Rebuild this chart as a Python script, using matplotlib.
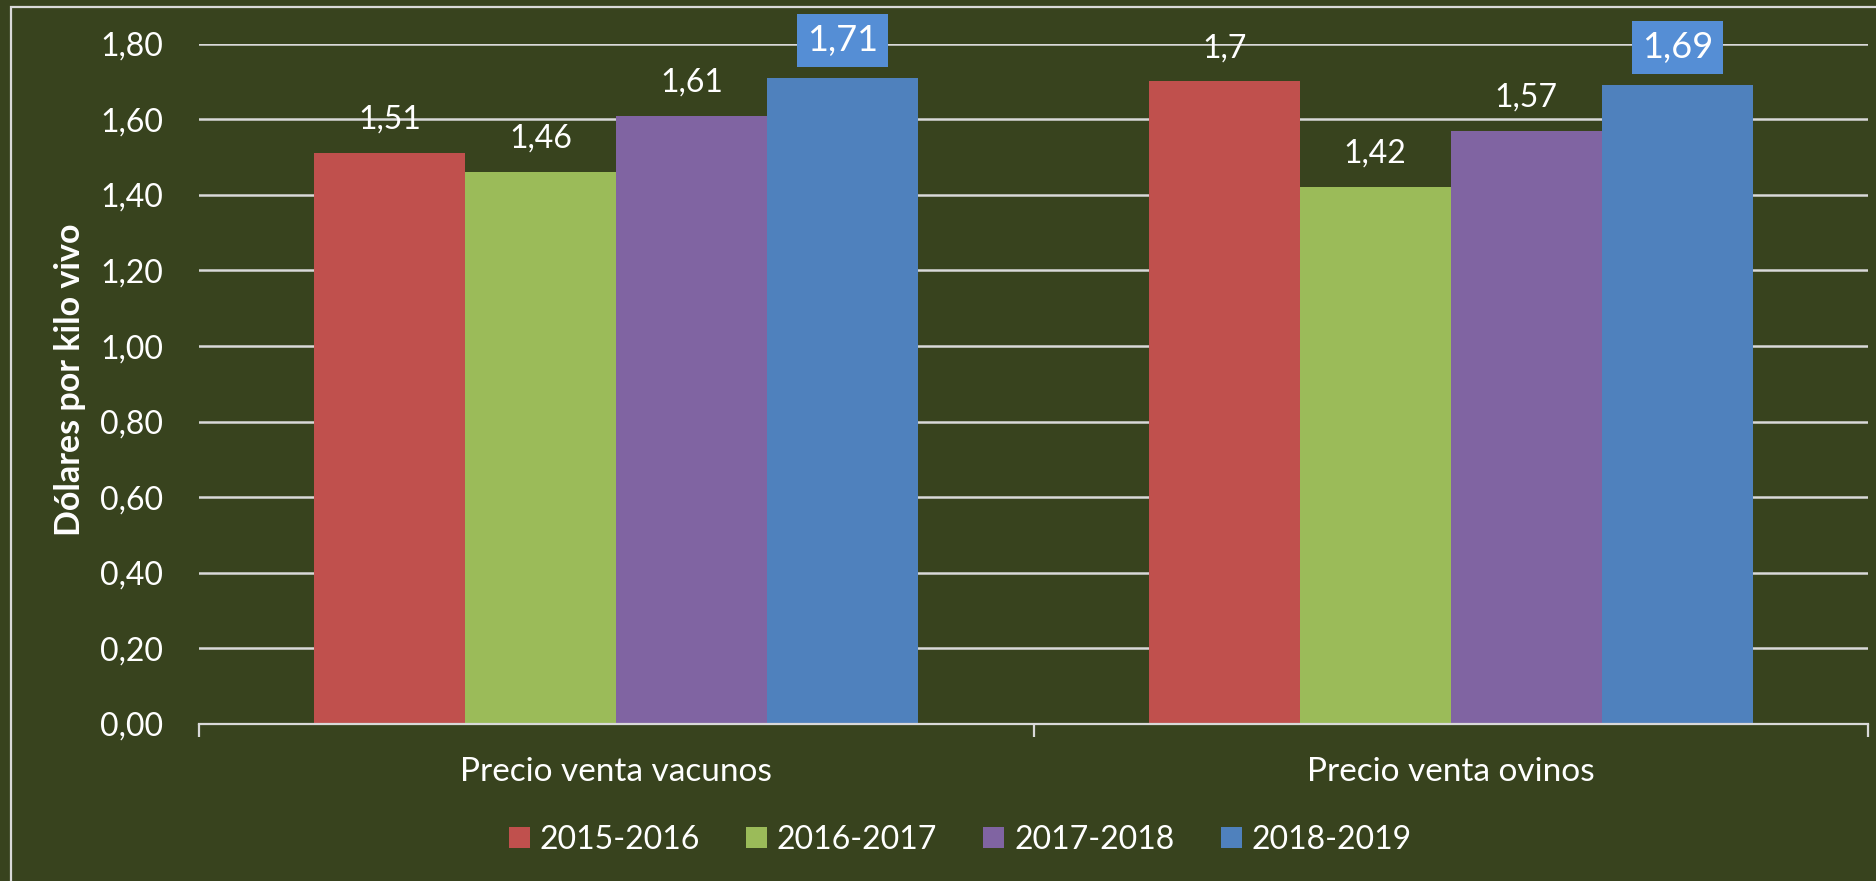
import matplotlib
matplotlib.use("Agg")
import matplotlib.pyplot as plt
import numpy as np
from matplotlib.patches import Rectangle
from matplotlib.transforms import blended_transform_factory

categories = ["Precio venta vacunos", "Precio venta ovinos"]
series = ["2015-2016", "2016-2017", "2017-2018", "2018-2019"]
values_2015 = [1.51, 1.70]
values_2016 = [1.46, 1.42]
values_2017 = [1.61, 1.57]
values_2018 = [1.71, 1.69]
labels_2015 = ["1,51", "1,7"]
labels_2016 = ["1,46", "1,42"]
labels_2017 = ["1,61", "1,57"]
labels_2018 = ["1,71", "1,69"]
yticks = [0.0, 0.2, 0.4, 0.6, 0.8, 1.0, 1.2, 1.4, 1.6, 1.8]
ytick_labels = ["0,00", "0,20", "0,40", "0,60", "0,80", "1,00", "1,20", "1,40", "1,60", "1,80"]

all_values = [values_2015, values_2016, values_2017, values_2018]
all_labels = [labels_2015, labels_2016, labels_2017, labels_2018]
colors = ["#C0504D", "#9BBB59", "#8064A2", "#4F81BD"]
BG = "#38431E"
LINE = "#D9D9D9"

plt.rcParams['font.family'] = ['Lato', 'DejaVu Sans']

W, H = 1876, 881
fig = plt.figure(figsize=(W / 100, H / 100), dpi=100)
fig.patch.set_facecolor(BG)

# outer frame (top and left visible)
fig.patches.append(Rectangle((11 / W, -0.1), 1.2, 1 - 7 / H + 0.1, transform=fig.transFigure,
                             fill=False, edgecolor=LINE, linewidth=1.6))

ax = fig.add_axes([199 / W, 1 - 724 / H, (1868 - 199) / W, (724 - 43.7) / H])
ax.set_facecolor(BG)

x = np.arange(len(categories))
bw = 0.181
for i, (vals, labs, c) in enumerate(zip(all_values, all_labels, colors)):
    pos = x + (i - 1.5) * bw
    ax.bar(pos, vals, width=bw, color=c, zorder=3, label=series[i])
    for px_, v, lab in zip(pos, vals, labs):
        if i == 3:
            ax.annotate(lab, (px_, v), xytext=(0, 27), textcoords="offset points",
                        ha="center", va="center", fontsize=26, color="white", zorder=5,
                        bbox=dict(boxstyle="square,pad=0.28", fc="#558ED5", ec="none"))
        else:
            ax.annotate(lab, (px_, v), xytext=(0, 24), textcoords="offset points",
                        ha="center", va="center", fontsize=23, color="white", zorder=5)

ax.set_xlim(-0.5, 1.5)
ax.set_ylim(0, 1.8)
ax.set_yticks(yticks)
ax.set_yticklabels(ytick_labels)
ax.tick_params(axis="y", length=0, pad=26, labelsize=23, labelcolor="white")
ax.yaxis.grid(True, color=LINE, linewidth=1.8, zorder=0)
ax.set_axisbelow(True)

ax.set_xticks([-0.5, 0.5, 1.5])
ax.set_xticklabels([])
ax.tick_params(axis="x", direction="out", length=9, width=1.6, color=LINE)
for s in ["top", "right", "left"]:
    ax.spines[s].set_visible(False)
ax.spines["bottom"].set_color(LINE)
ax.spines["bottom"].set_linewidth(1.6)
ax.spines["bottom"].set_zorder(4)

tr = blended_transform_factory(ax.transData, fig.transFigure)
for xi, cat in zip(x, categories):
    ax.text(xi, 1 - 772 / H, cat, transform=tr, ha="center", va="center",
            fontsize=24, color="white")

fig.text(70 / W, 1 - 380 / H, "Dólares por kilo vivo", rotation=90, ha="center", va="center",
         fontsize=24.5, fontweight="bold", color="white")

leg = fig.legend(loc="center", bbox_to_anchor=(960 / W, 1 - 840 / H), ncol=4, frameon=False,
                 fontsize=23, handlelength=0.66, handleheight=0.64, handletextpad=0.3,
                 columnspacing=1.45)
for t in leg.get_texts():
    t.set_color("white")

fig.savefig("out.png", dpi=100, facecolor=BG)
